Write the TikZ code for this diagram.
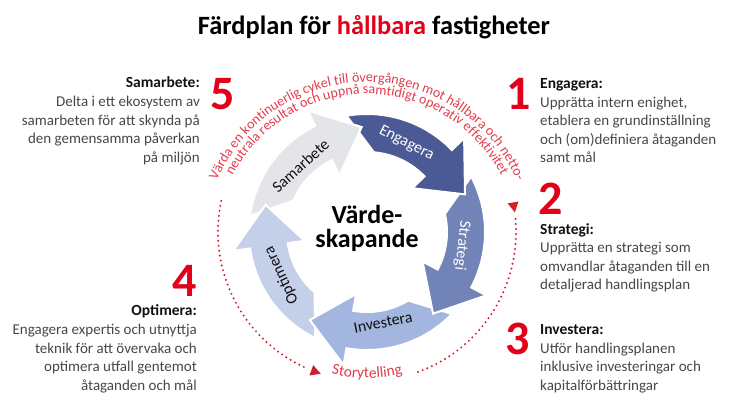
\documentclass[tikz,border=0pt]{standalone}
\usepackage{fontspec}
\setmainfont{Carlito}
\usetikzlibrary{decorations.text,calc}
\definecolor{cnavy}{HTML}{4B5A94}
\definecolor{cstrat}{HTML}{7283B8}
\definecolor{cinv}{HTML}{A3B6E0}
\definecolor{copt}{HTML}{C4CFEA}
\definecolor{csam}{HTML}{E4E5E9}
\definecolor{cnum}{HTML}{E2001A}
\definecolor{ccurve}{HTML}{E03C4B}
\definecolor{cdot}{HTML}{D01E2C}
\definecolor{cbody}{HTML}{474747}
\definecolor{chead}{HTML}{111111}
\newcommand\curvefont{\fontsize{14}{14}\selectfont\color{ccurve}}
\newcommand\storyfont{\fontsize{15.5}{15.5}\selectfont\color{ccurve}}
\newcommand\ringarrow[2]{%
  \begin{scope}[shift={(C)}, rotate=#2]
    \path[fill=#1, ringedge] (100:118) arc[start angle=100, end angle=44, radius=118]
      -- (44:135) -- (21:105) -- (44:63) -- (44:80)
      arc[start angle=44, end angle=85, radius=80] -- cycle;
  \end{scope}}
\newcommand\ringhead[2]{%
  \begin{scope}[shift={(C)}, rotate=#2]
    \clip (0,0) -- (11:150) arc[start angle=11, end angle=48, radius=150] -- cycle;
    \path[fill=#1, ringedge] (100:118) arc[start angle=100, end angle=44, radius=118]
      -- (44:135) -- (21:105) -- (44:63) -- (44:80)
      arc[start angle=44, end angle=85, radius=80] -- cycle;
  \end{scope}}
\tikzset{
  ringedge/.style={draw=white, line width=2pt, line join=miter},
  bignum/.style={font=\bfseries\fontsize{48}{48}\selectfont, text=cnum, inner sep=0pt, anchor=base},
  headtxt/.style={font=\bfseries\fontsize{15.5}{18.5}\selectfont, text=chead, inner sep=0pt},
  bodytxt/.style={font=\fontsize{15}{18.5}\selectfont, text=cbody, inner sep=0pt},
  arrowlabel/.style={font=\fontsize{16}{16}\selectfont, inner sep=0pt},
  dotline/.style={draw=cdot, line width=2.2pt, line cap=round, dash pattern=on 0pt off 5pt},
  tri/.style={fill=cdot},
}
\begin{document}
\begin{tikzpicture}[x=1pt,y=1pt]
\useasboundingbox (0,0) rectangle (746,419);
\coordinate (C) at (367,187);
\coordinate (T) at (367,174);

% title
\node[font=\bfseries\fontsize{26.4}{26.4}\selectfont, anchor=base, inner sep=0pt] (title) at (374,384)
  {Färdplan för \textcolor{cnum}{hållbara} fastigheter};

% cycle arrows
\ringarrow{cnavy}{0}
\ringarrow{cstrat}{-72}
\ringarrow{cinv}{-144}
\ringarrow{copt}{-216}
\ringarrow{csam}{-288}
\ringhead{cnavy}{0}
\ringhead{cstrat}{-72}
\ringhead{cinv}{-144}
\ringhead{copt}{-216}
\ringhead{csam}{-288}

% arrow labels
\node[arrowlabel, text=white, rotate=-27] (lEng) at ($(C)+(66:97)$) {Engagera};
\node[arrowlabel, text=white, rotate=-96] (lStr) at ($(C)+(-8:96)$) {Strategi};
\node[arrowlabel, text=chead, rotate=11] (lInv) at ($(C)+(-80:92)$) {Investera};
\node[arrowlabel, text=chead, rotate=115] (lOpt) at ($(C)+(-153:96)$) {Optimera};
\node[arrowlabel, text=chead, rotate=42] (lSam) at ($(C)+(135:94)$) {Samarbete};

% centre (base = last line)
\node[font=\bfseries\fontsize{26}{24}\selectfont, align=center, anchor=base, inner sep=0pt] (centre) at (367,171)
  {Värde-\\skapande};

% dotted circle parts
\draw[dotline] ($(C)+(5:149)$) arc[start angle=5, end angle=-70, radius=149];
\draw[dotline] ($(C)+(168:149)$) arc[start angle=168, end angle=245, radius=149];
\begin{scope}[shift={($(C)+(9.5:149)$)}, rotate=-80]
  \path[tri] (5,0) -- (-5,5.5) -- (-5,-5.5) -- cycle;
\end{scope}
\begin{scope}[shift={($(C)+(250:149)$)}, rotate=-20]
  \path[tri] (5,0) -- (-5,5.5) -- (-5,-5.5) -- cycle;
\end{scope}

% curved texts
\path[decorate, decoration={text along path, text align=center,
  text={|\curvefont|Värda en kontinuerlig cykel till övergången mot hållbara och netto-}}]
  ($(T)+(172:163)$) arc[start angle=172, end angle=8, radius=163];
\path[decorate, decoration={text along path, text align=center,
  text={|\curvefont|neutrala resultat och uppnå samtidigt operativ effektivitet}}]
  ($(T)+(172:151)$) arc[start angle=172, end angle=8, radius=151];
\path[decorate, decoration={text along path, text align=center,
  text={|\storyfont|Storytelling}}]
  ($(C)+(-120:146)$) arc[start angle=-120, end angle=-60, radius=146];

% numbers
\node[bignum] (n1) at (519,309) {1};
\node[bignum] (n2) at (551,204) {2};
\node[bignum] (n3) at (518,64) {3};
\node[bignum] (n4) at (185,122) {4};
\node[bignum] (n5) at (223,309) {5};

% right texts (body nodes anchored on their last line)
\node[headtxt, anchor=base west] (h1) at (540,330) {Engagera:};
\node[bodytxt, anchor=base west, align=left] (b1) at (540,256)
  {Upprätta intern enighet,\\etablera en grundinställning\\och (om)definiera åtaganden\\samt mål};
\node[headtxt, anchor=base west] (h2) at (540,184) {Strategi:};
\node[bodytxt, anchor=base west, align=left] (b2) at (540,129)
  {Upprätta en strategi som\\omvandlar åtaganden till en\\detaljerad handlingsplan};
\node[headtxt, anchor=base west] (h3) at (540,84) {Investera:};
\node[bodytxt, anchor=base west, align=left] (b3) at (540,28.5)
  {Utför handlingsplanen\\inklusive investeringar och\\kapitalförbättringar};

% left texts
\node[headtxt, anchor=base east] (h5) at (200,331) {Samarbete:};
\node[bodytxt, anchor=base east, align=right] (b5) at (200,256.5)
  {Delta i ett ekosystem av\\samarbeten för att skynda på\\den gemensamma påverkan\\på miljön};
\node[headtxt, anchor=base east] (h4) at (197,103) {Optimera:};
\node[bodytxt, anchor=base east, align=right] (b4) at (197,28.5)
  {Engagera expertis och utnyttja\\teknik för att övervaka och\\optimera utfall gentemot\\åtaganden och mål};
\end{tikzpicture}
\end{document}
